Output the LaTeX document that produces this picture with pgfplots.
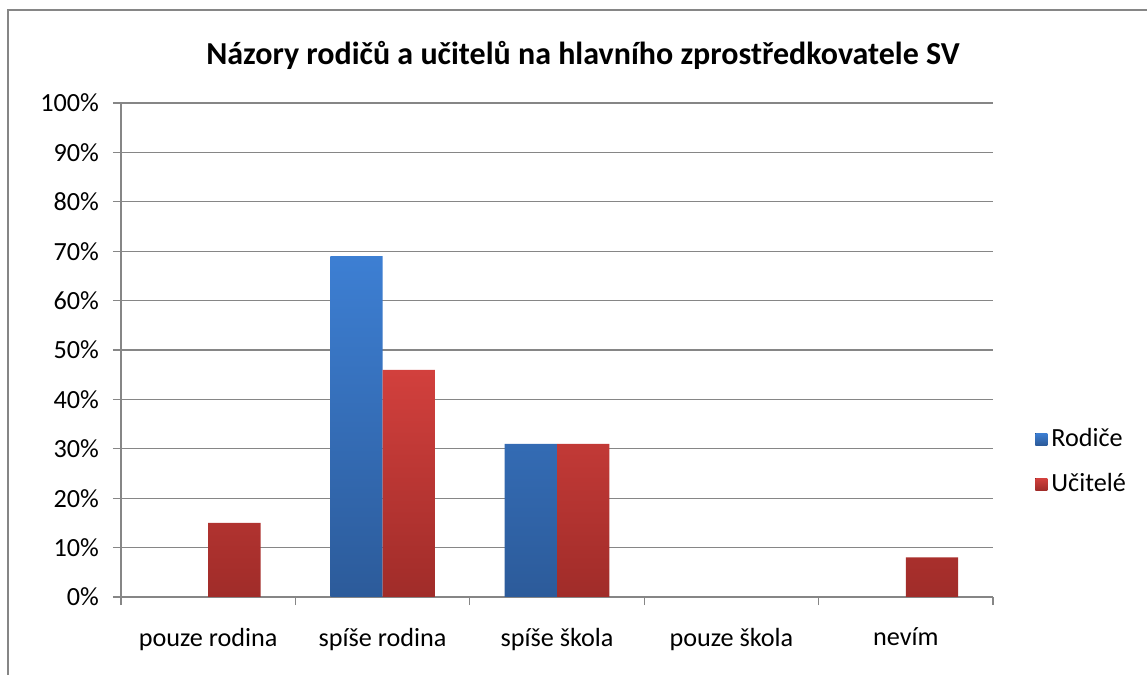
\documentclass[border=0pt]{standalone}
\usepackage{pgfplots}
\pgfplotsset{compat=1.18}
\usepackage{fontspec}
\setmainfont{Carlito}
\definecolor{gridc}{HTML}{868686}
\definecolor{bluetop}{HTML}{3D7FD3}
\definecolor{bluebot}{HTML}{2C5B9A}
\definecolor{redtop}{HTML}{D2403D}
\definecolor{redbot}{HTML}{A02C29}
\begin{document}
\begin{tikzpicture}
\useasboundingbox (0,0) rectangle (573.5pt,337.5pt);
\draw[gridc, line width=1pt] (4pt,0) -- (4pt,332.5pt) -- (573.5pt,332.5pt);
\node[font=\fontsize{16}{19}\selectfont\bfseries] at (291.5pt,310pt) {Názory rodičů a učitelů na hlavního zprostředkovatele SV};
\begin{axis}[
  at={(60.5pt,39pt)}, anchor=south west,
  scale only axis, width=436pt, height=247pt,
  xmin=-0.5, xmax=4.5, ymin=0, ymax=100,
  ytick={0,10,...,100},
  yticklabel={\pgfmathprintnumber{\tick}\%},
  /pgf/number format/assume math mode=true,
  xtick={0,1,2,3,4},
  xticklabels={pouze rodina, spíše rodina, spíše škola, pouze škola, nevím},
  minor xtick={-0.5,0.5,1.5,2.5,3.5,4.5},
  major x tick style={draw=none},
  tick align=outside,
  major tick length=4pt, minor tick length=4pt,
  tick style={gridc, line width=0.6pt},
  ymajorgrids, grid style={gridc, line width=0.6pt},
  axis x line*=bottom, axis y line*=left,
  axis line style={gridc, line width=0.6pt},
  ticklabel style={font=\fontsize{13.1}{15}\selectfont, text=black},
  xticklabel style={yshift=-8pt},
  yticklabel style={xshift=-3.5pt},
  bar width=0.3,
  unbounded coords=discard,
  y filter/.expression={y==0 ? nan : y},
  legend style={at={(1.0,0.274)}, anchor=west, xshift=18pt, draw=none, fill=none,
    font=\fontsize{13.1}{15}\selectfont, row sep=8pt, cells={anchor=west}},
  legend cell align=left,
  legend image code/.code={\fill[#1] (0pt,-3pt) rectangle (6pt,3pt);},
]
\addplot[ybar, bar shift=-0.15, draw=none, top color=bluetop, bottom color=bluebot]
  coordinates {(0,0) (1,69) (2,31) (3,0) (4,0)};
\addlegendentry{Rodiče}
\addplot[ybar, bar shift=0.15, draw=none, top color=redtop, bottom color=redbot]
  coordinates {(0,15) (1,46) (2,31) (3,0) (4,8)};
\addlegendentry{Učitelé}
\end{axis}
\end{tikzpicture}
\end{document}
